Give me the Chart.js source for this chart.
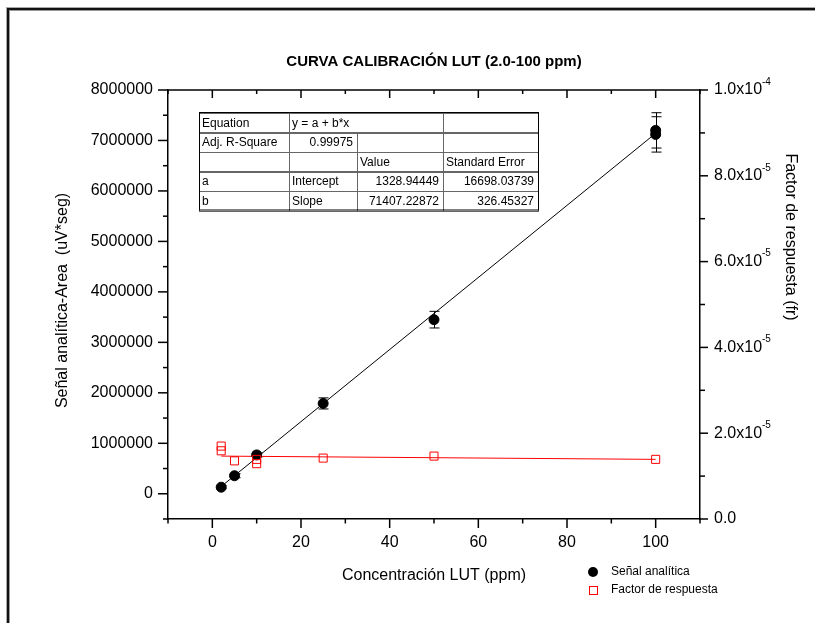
<!DOCTYPE html>
<html>
<head>
<meta charset="utf-8">
<title>Curva calibración LUT</title>
<script src="https://cdn.jsdelivr.net/npm/chart.js@4.4.1/dist/chart.umd.min.js"></script>
<style>
  html, body { margin: 0; padding: 0; background: #fff; overflow: hidden; }
  #wrap { position: relative; width: 815px; height: 623px; }
  #frame {
    position: absolute; left: 7px; top: 8px; width: 840px; height: 660px;
    border-left: 2px solid #111; border-top: 2px solid #111;
    box-shadow: inset 1px 1px 0 #999, -1px -1px 0 #aaa;
  }
  canvas { position: absolute; left: 0; top: 0; }
</style>
</head>
<body>
<div id="wrap">
  <div id="frame"></div>
  <canvas id="chart" width="815" height="623"></canvas>
</div>
<script>
// concentration (ppm) and analytical signal (uV*seg), with replicate at 100 ppm
const CONC = [2, 5, 10, 25, 50, 100, 100]
const SIGNAL = [130000, 357000, 770000, 1790000, 3450000, 7200000, 7120000]
const SIGNAL_ERR = [30000, 40000, 40000, 110000, 165000, 350000, 350000]

// response factor (fr)
const FR_CONC = [2, 2, 5, 10, 10, 25, 50, 100]
const FR = [1.70e-5, 1.59e-5, 1.355e-5, 1.39e-5, 1.29e-5, 1.42e-5, 1.466e-5, 1.39e-5]

// linear fit y = a + b*x
const FIT_A = 1328.94449
const FIT_A_ERR = 16698.03739
const FIT_B = 71407.22872
const FIT_B_ERR = 326.45327
const FIT_R2 = 0.99975
const FIT_X = [2, 100]

// response factor trend
const FR_FIT_X = [2, 100]
const FR_FIT = [1.466e-5, 1.39e-5]

// axis ticks
const X_TICKS = [0, 20, 40, 60, 80, 100]
const Y_TICKS = [0, 1000000, 2000000, 3000000, 4000000, 5000000, 6000000, 7000000, 8000000]
const FR_TICKS = [0, 2e-5, 4e-5, 6e-5, 8e-5, 1e-4]
const FR_TICK_BASE = ["0.0", "2.0x10", "4.0x10", "6.0x10", "8.0x10", "1.0x10"]
const FR_TICK_EXP = ["", "-5", "-5", "-5", "-5", "-4"]

const FONT = "'Liberation Sans', Arial, sans-serif"
Chart.defaults.font.family = FONT
Chart.defaults.color = "#000"

const line = (ctx, x1, y1, x2, y2) => {
  ctx.beginPath()
  ctx.moveTo(x1, y1)
  ctx.lineTo(x2, y2)
  ctx.stroke()
}

const decor = {
  id: "decor",
  beforeDatasetsDraw(chart) {
    // error bars for the analytical signal
    const { ctx, chartArea: a, scales: { x, y } } = chart
    ctx.save()
    ctx.beginPath()
    ctx.rect(a.left, a.top, a.width, a.height)
    ctx.clip()
    ctx.strokeStyle = "#000"
    ctx.lineWidth = 1
    CONC.forEach((c, i) => {
      const px = Math.round(x.getPixelForValue(c)) + 0.5
      const top = y.getPixelForValue(SIGNAL[i] + SIGNAL_ERR[i])
      const bot = y.getPixelForValue(SIGNAL[i] - SIGNAL_ERR[i])
      line(ctx, px, top, px, bot)
      line(ctx, px - 5, top, px + 5, top)
      line(ctx, px - 5, bot, px + 5, bot)
    })
    ctx.restore()
  },
  afterDraw(chart) {
    const { ctx, chartArea: a, scales: { x, y, y2 } } = chart
    ctx.save()
    ctx.strokeStyle = "#000"
    ctx.fillStyle = "#000"

    // top frame line
    ctx.lineWidth = 1.5
    line(ctx, a.left, a.top, a.right, a.top)

    // tick marks (major + minor)
    ctx.lineWidth = 1.5
    for (let k = -1; k <= 11; k++) {
      const px = x.getPixelForValue(k * 10)
      const major = k % 2 === 0
      line(ctx, px, a.bottom, px, a.bottom + (major ? 9 : 4.5))
      line(ctx, px, a.top, px, a.top + (major ? 8 : 4))
    }
    for (let k = -1; k <= 16; k++) {
      const py = y.getPixelForValue(k * 500000)
      line(ctx, a.left, py, a.left - (k % 2 === 0 ? 10 : 5), py)
    }
    for (let k = 0; k <= 10; k++) {
      const py = y2.getPixelForValue(k * 1e-5)
      line(ctx, a.right, py, a.right + (k % 2 === 0 ? 8 : 5), py)
    }

    // right axis labels with exponents
    ctx.textAlign = "left"
    ctx.textBaseline = "middle"
    FR_TICKS.forEach((v, i) => {
      const py = y2.getPixelForValue(v)
      ctx.font = `16px ${FONT}`
      ctx.fillText(FR_TICK_BASE[i], a.right + 14, py)
      if (FR_TICK_EXP[i]) {
        const w = ctx.measureText(FR_TICK_BASE[i]).width
        ctx.font = `10px ${FONT}`
        ctx.fillText(FR_TICK_EXP[i], a.right + 14 + w, py - 8)
      }
    })

    // chart title and axis titles
    const cx = (a.left + a.right) / 2
    ctx.textAlign = "center"
    ctx.font = `bold 15px ${FONT}`
    ctx.fillText("CURVA CALIBRACIÓN LUT (2.0-100 ppm)", cx, 62)
    ctx.font = `16px ${FONT}`
    ctx.fillText("Concentración LUT (ppm)", cx, 576)

    ctx.save()
    ctx.translate(63, (a.top + a.bottom) / 2 - 4)
    ctx.rotate(-Math.PI / 2)
    ctx.fillText("Señal analítica-Area  (uV*seg)", 0, 0)
    ctx.restore()

    ctx.save()
    ctx.translate(790, 237)
    ctx.rotate(Math.PI / 2)
    ctx.fillText("Factor de respuesta (fr)", 0, 0)
    ctx.restore()

    // legend
    ctx.font = `12px ${FONT}`
    ctx.textAlign = "left"
    ctx.beginPath()
    ctx.arc(593, 572, 5, 0, Math.PI * 2)
    ctx.fill()
    ctx.fillText("Señal analítica", 611, 572)
    ctx.strokeStyle = "#ff0000"
    ctx.lineWidth = 1
    ctx.strokeRect(589.5, 586.5, 8, 8)
    ctx.fillText("Factor de respuesta", 611, 590)

    // fit results table
    const cols = [199, 289, 357, 443, 538]
    const top = 112.5
    const rh = 19.5
    const rows = [
      [["Equation", "l", 1], ["y = a + b*x", "l", 2], ["", "l", 1]],
      [["Adj. R-Square", "l", 1], [FIT_R2.toFixed(5), "r", 1], ["", "l", 1], ["", "l", 1]],
      [["", "l", 1], ["", "l", 1], ["Value", "l", 1], ["Standard Error", "l", 1]],
      [["a", "l", 1], ["Intercept", "l", 1], [FIT_A.toFixed(5), "r", 1], [FIT_A_ERR.toFixed(5), "r", 1]],
      [["b", "l", 1], ["Slope", "l", 1], [FIT_B.toFixed(5), "r", 1], [FIT_B_ERR.toFixed(5), "r", 1]]
    ]
    ctx.fillStyle = "#fff"
    ctx.fillRect(cols[0], top, cols[4] - cols[0], rh * rows.length)
    ctx.font = `12px ${FONT}`
    ctx.lineWidth = 1
    rows.forEach((row, r) => {
      const ry = Math.round(top + r * rh)
      let c = 0
      row.forEach(([text, align, span]) => {
        const x0 = cols[c]
        const x1 = cols[c + span]
        ctx.strokeStyle = "#666"
        ctx.strokeRect(x0 + 0.5, ry + 0.5, x1 - x0, Math.round(rh))
        ctx.fillStyle = "#000"
        ctx.textAlign = align === "r" ? "right" : "left"
        ctx.fillText(text, align === "r" ? x1 - 4 : x0 + 3, ry + rh / 2 + 1)
        c += span
      })
    })
    ctx.strokeStyle = "#000"
    ctx.strokeRect(cols[0] + 0.5, top, cols[4] - cols[0], rh * rows.length)
    ctx.restore()
  }
}

new Chart(document.getElementById("chart"), {
  type: "scatter",
  data: {
    datasets: [
      {
        type: "line",
        label: "Ajuste",
        data: FIT_X.map(v => ({ x: v, y: FIT_A + FIT_B * v })),
        yAxisID: "y",
        borderColor: "#000",
        borderWidth: 1,
        pointRadius: 0,
        order: 4
      },
      {
        type: "line",
        label: "Ajuste fr",
        data: FR_FIT_X.map((v, i) => ({ x: v, y: FR_FIT[i] })),
        yAxisID: "y2",
        borderColor: "#ff0000",
        borderWidth: 1,
        pointRadius: 0,
        order: 3
      },
      {
        label: "Señal analítica",
        data: CONC.map((v, i) => ({ x: v, y: SIGNAL[i] })),
        yAxisID: "y",
        pointStyle: "circle",
        pointRadius: 5,
        backgroundColor: "#000",
        borderColor: "#000",
        borderWidth: 1,
        order: 2
      },
      {
        label: "Factor de respuesta",
        data: FR_CONC.map((v, i) => ({ x: v, y: FR[i] })),
        yAxisID: "y2",
        pointStyle: "rect",
        pointRadius: 5.7,
        backgroundColor: "rgba(255,255,255,0)",
        borderColor: "#ff0000",
        borderWidth: 1,
        order: 1
      }
    ]
  },
  options: {
    responsive: false,
    animation: false,
    events: [],
    layout: { padding: { top: 90, left: 0, right: 0, bottom: 0 } },
    plugins: { legend: { display: false }, tooltip: { enabled: false } },
    scales: {
      x: {
        type: "linear",
        position: "bottom",
        min: -10,
        max: 110,
        afterBuildTicks: s => { s.ticks = X_TICKS.map(v => ({ value: v })) },
        afterFit: s => { s.height = 104 },
        grid: { drawOnChartArea: false, drawTicks: true, tickLength: 9, color: "rgba(0,0,0,0)" },
        border: { display: true, color: "#000", width: 1.5 },
        ticks: { font: { size: 16 }, padding: 5, maxRotation: 0, autoSkip: false }
      },
      y: {
        type: "linear",
        position: "left",
        min: -500000,
        max: 8000000,
        afterBuildTicks: s => { s.ticks = Y_TICKS.map(v => ({ value: v })) },
        afterFit: s => { s.width = 168 },
        grid: { drawOnChartArea: false, drawTicks: true, tickLength: 10, color: "rgba(0,0,0,0)" },
        border: { display: true, color: "#000", width: 1.5 },
        ticks: { font: { size: 16 }, padding: 5, autoSkip: false, callback: v => String(v) }
      },
      y2: {
        type: "linear",
        position: "right",
        min: 0,
        max: 1e-4,
        afterBuildTicks: s => { s.ticks = FR_TICKS.map(v => ({ value: v })) },
        afterFit: s => { s.width = 115 },
        grid: { drawOnChartArea: false, drawTicks: false, color: "rgba(0,0,0,0)" },
        border: { display: true, color: "#000", width: 1.5 },
        ticks: { display: false }
      }
    }
  },
  plugins: [decor]
})
</script>
</body>
</html>
